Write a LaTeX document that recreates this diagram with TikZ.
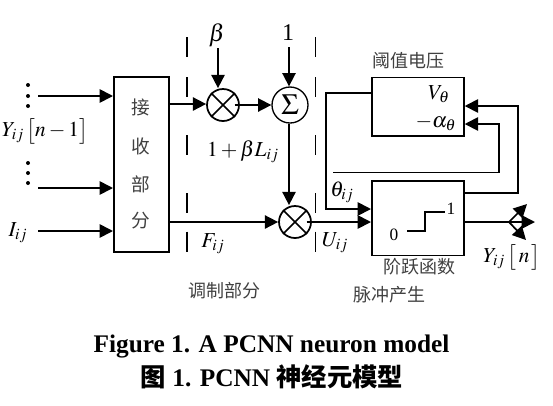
\documentclass[tikz,border=0pt]{standalone}
\usepackage{amsmath,amssymb}
\usepackage{mathptmx}
\usepackage{fontspec}
\setmainfont{Liberation Serif}
\newfontfamily\cjkfont{Noto Sans CJK SC}
\usepackage{tikz}
\usetikzlibrary{arrows.meta,positioning,calc}
\tikzset{
  blockbox/.style={draw, line width=1.3pt, inner sep=0pt, anchor=north west},
  mixer/.style={draw, circle, line width=1.3pt, minimum size=24pt, inner sep=0pt},
  dotmark/.style={circle, fill=black, minimum size=3pt, inner sep=0pt},
  flow/.style={-{Triangle[length=10pt,width=10pt]}, line width=1.3pt},
  sep/.style={line width=1pt, dash pattern=on 15pt off 15pt on 15pt off 28.5pt on 15pt off 28.5pt on 15pt off 14pt on 15pt off 20pt},
  lbl/.style={font=\fontsize{16}{18}\selectfont, inner sep=0pt},
  recv/.style={font=\fontsize{14}{16}\selectfont\cjkfont, text=black!75, inner sep=0pt},
  cjk/.style={font=\fontsize{13.5}{15}\selectfont\cjkfont, text=black!75, inner sep=0pt},
  caption/.style={font=\fontsize{19}{21}\selectfont\bfseries, inner sep=0pt},
}
\begin{document}
\begin{tikzpicture}[x=0.75pt, y=-0.75pt]
  \useasboundingbox (0,0) rectangle (553,405);
  % blocks
  \node[blockbox, minimum width=41.25pt, minimum height=131.25pt] (recvbox) at (113,76) {};
  \node[recv] (recv1) at (141,107) {接};
  \node[recv] (recv2) at (141,146) {收};
  \node[recv] (recv3) at (141,184) {部};
  \node[recv] (recv4) at (141,221) {分};
  \node[blockbox, minimum width=69pt, minimum height=44pt] (thresh) at (371,76.5) {};
  \node[blockbox, minimum width=69pt, minimum height=56pt] (pulse) at (371,180) {};
  % mixers
  \node[mixer] (mixa) at (223,105) {};
  \draw[line width=1.3pt] (mixa.45) -- (mixa.225) (mixa.135) -- (mixa.315);
  \node[mixer, minimum size=27pt, line width=1pt] (sum) at (290,105) {\fontsize{22}{24}\selectfont$\Sigma$};
  \node[mixer] (mixb) at (295,222) {};
  \draw[line width=1.3pt] (mixb.45) -- (mixb.225) (mixb.135) -- (mixb.315);
  % dots
  \foreach \i/\y in {a/85,b/96,c/106,d/163,e/173,f/183}
    \node[dotmark] (dot\i) at (28,\y) {};
  % named free ends
  \coordinate (ya) at (38,96);
  \coordinate (yb) at (38,188);
  \coordinate (ia) at (38,231);
  \coordinate (betaend) at (218,48);
  \coordinate (oneend) at (289,47);
  \coordinate (back) at (333,172.5);
  \coordinate (out) at (535,222);
  % separators
  \coordinate (sepa) at (187,37);
  \coordinate (sepb) at (315.5,37);
  \draw[sep] (sepa) -- (sepa |- recvbox.south);
  \draw[sep] (sepb) -- (sepb |- recvbox.south);
  % inputs
  \draw[flow] (ya) -- (ya -| recvbox.west);
  \draw[flow] (yb) -- (yb -| recvbox.west);
  \draw[flow] (ia) -- (ia -| recvbox.west);
  \draw[flow] (recvbox.east |- 0,104) -- (mixa.west |- 0,104);
  \draw[flow] (recvbox.east |- mixb) -- (mixb.west);
  \draw[flow] (betaend) -- (betaend |- mixa.north);
  \draw[flow] ([xshift=-4pt]mixa.east) -- (sum.west);
  \draw[flow] (oneend) -- (sum.north -| oneend);
  \draw[flow] (sum.south -| oneend) -- (mixb.north -| oneend);
  \draw[flow] ([xshift=-4pt]mixb.east) -- (mixb -| pulse.west);
  % feedback
  \draw[flow] (thresh.west |- 0,93) -- (326,93) -- (326,209) -- (pulse.west |- 0,209);
  \draw[flow] (back) -- (499,172.5) -- (499,124) -- (thresh.east |- 0,124);
  \draw[flow] (pulse.east |- 0,193) -- (518,193) -- (518,106) -- (thresh.east |- 0,106);
  % output
  \draw[flow] (pulse.east |- out) -- (out);
  \draw[flow] (509,222) -- (527,204);
  \draw[flow] (509,222) -- (526,240);
  % step curve
  \draw[line width=1pt] (407,231) -- (425,231) -- (425,212) -- (445,212);
  % labels
  \node[lbl, font=\fontsize{13}{15}\selectfont] (zero) at (394,235) {0};
  \node[lbl, font=\fontsize{13}{15}\selectfont] (unit) at (451,209) {1};
  \node[lbl, font=\fontsize{18}{20}\selectfont] (lbeta) at (217,35) {$\beta$};
  \node[lbl, font=\fontsize{18}{20}\selectfont] (lone) at (288,33) {1};
  \node[lbl] (lyin) at (45,131) {$Y_{ij}\,\big[n-1\big]$};
  \node[lbl] (lin) at (18,233) {$I_{ij}$};
  \node[lbl] (lgain) at (243,152) {$1+\beta L_{ij}$};
  \node[lbl] (lf) at (213,244) {$F_{ij}$};
  \node[lbl] (lu) at (335,243) {$U_{ij}$};
  \node[lbl] (ltheta) at (342,192) {$\theta_{ij}$};
  \node[lbl] (lv) at (439,94) {$V_{\theta}$};
  \node[lbl] (lalpha) at (436,123) {$-\alpha_{\theta}$};
  \node[lbl] (lyout) at (512,257) {$Y_{ij}\,\big[\,n\,\big]$};
  \node[cjk] (tthresh) at (408,61) {阈值电压};
  \node[cjk] (tpulse) at (419,267) {阶跃函数};
  \node[cjk] (tmod) at (224,291) {调制部分};
  \node[cjk] (tgen) at (389,295) {脉冲产生};
  \node[caption] (capen) at (271.5,346) {Figure 1. A PCNN neuron model};
  \node[caption] (capzh) at (272,377) {{\cjkfont 图} 1. PCNN {\cjkfont 神经元模型}};
\end{tikzpicture}
\end{document}
